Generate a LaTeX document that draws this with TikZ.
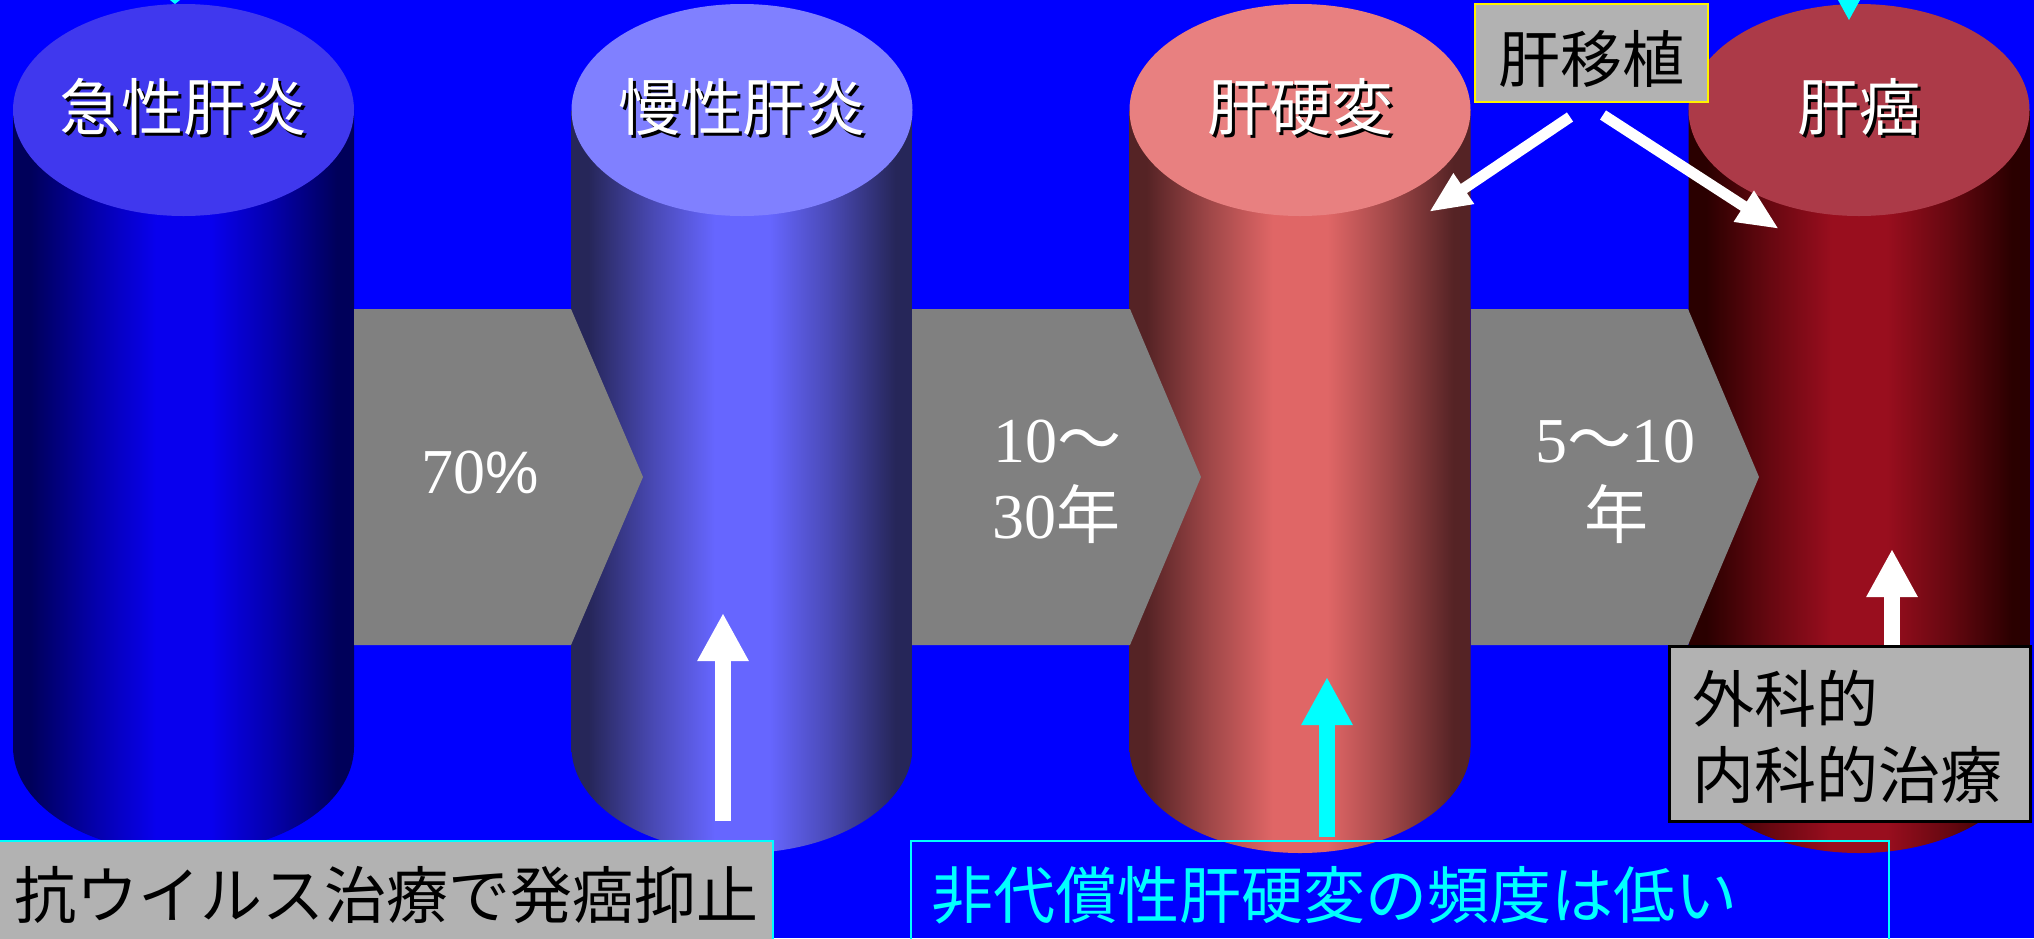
\documentclass[tikz,border=0pt]{standalone}
\usepackage{fontspec}
\setmainfont{Liberation Serif}
\newfontfamily\jp{Noto Sans CJK JP}
\newfontfamily\lsans{Liberation Sans}
\usetikzlibrary{arrows.meta}
\definecolor{bg}{HTML}{0000FF}
\definecolor{chevgray}{HTML}{808080}
\definecolor{boxgray}{HTML}{B2B2B2}
\definecolor{cyanline}{HTML}{00FFFF}
\definecolor{eA}{HTML}{00005A}\definecolor{mA}{HTML}{0800EE}\definecolor{tA}{HTML}{4038EE}
\definecolor{eB}{HTML}{262659}\definecolor{mB}{HTML}{6666FF}\definecolor{tB}{HTML}{8080FF}
\definecolor{eC}{HTML}{552325}\definecolor{mC}{HTML}{E06666}\definecolor{tC}{HTML}{E88080}
\definecolor{eD}{HTML}{2A0000}\definecolor{mD}{HTML}{990E1E}\definecolor{tD}{HTML}{AC3A48}
\newcommand\mkshade[3]{%
  \colorlet{#1q}{#2!45!#3}%
  \pgfdeclarehorizontalshading{#1}{100bp}{color(0bp)=(#2); color(27.5bp)=(#2); color(37bp)=(#1q); color(46bp)=(#3); color(54bp)=(#3); color(63bp)=(#1q); color(72.5bp)=(#2); color(100bp)=(#2)}%
}
\mkshade{shA}{eA}{mA}
\mkshade{shB}{eB}{mB}
\mkshade{shC}{eC}{mC}
\mkshade{shD}{eD}{mD}
\newcommand\mycyl[3]{%
  \shade[shading=#2]
    (#1-170.5,-110) -- (#1-170.5,-747)
    arc[start angle=180,end angle=360,x radius=170.5,y radius=106]
    -- (#1+170.5,-110) -- cycle;
  \fill[#3] (#1,-110) ellipse[x radius=170.5,y radius=106];
}
\tikzset{
  cjk/.style={font=\jp\fontsize{62}{70}\selectfont,inner sep=0pt,anchor=base},
  num/.style={font=\fontsize{64}{72}\selectfont,text=white,inner sep=0pt,anchor=base},
  chev/.style={fill=chevgray},
  whitearrow/.style={draw=white,line width=11pt,-{Triangle[length=42pt,width=34pt]}},
  uparrow/.style={draw=#1,line width=16pt,-{Triangle[length=48pt,width=48pt]}},
}
\begin{document}
\begin{tikzpicture}[x=1pt,y=1pt]
\useasboundingbox (0,0) rectangle (2034,-938);
\fill[bg] (0,0) rectangle (2034,-938);
% cylinders
\mycyl{183.5}{shA}{tA}
\mycyl{742}{shB}{tB}
\mycyl{1300}{shC}{tC}
\mycyl{1859}{shD}{tD}
% chevrons
\fill[chev] (354,-309) -- (571,-309) -- (643,-477) -- (571,-645) -- (354,-645) -- cycle;
\fill[chev] (912,-309) -- (1130,-309) -- (1201,-477) -- (1130,-645) -- (912,-645) -- cycle;
\fill[chev] (1471,-309) -- (1688,-309) -- (1759,-477) -- (1688,-645) -- (1471,-645) -- cycle;
\node[num] (p1) at (480,-493) {70{\lsans\fontsize{60}{70}\selectfont \%}};
\node[num] (p2a) at (1057,-462) {10{\jp ～}};
\node[num] (p2b) at (1056,-538) {30{\jp 年}};
\node[num] (p3a) at (1615,-462) {5{\jp ～}10};
\node[num] (p3b) at (1616,-538) {\jp 年};
% cylinder labels with shadow
\foreach \x/\t/\n in {183.5/急性肝炎/a,742/慢性肝炎/b,1300/肝硬変/c,1859/肝癌/d}{
  \node[cjk,text=black] at (\x+3,-133) {\t};
  \node[cjk,text=white] (lab\n) at (\x,-130) {\t};
}
% liver transplant box
\fill[boxgray,draw=yellow,line width=1.5pt] (1475,-4) rectangle (1708,-102);
\node[cjk,text=black] (tx) at (1591,-82) {肝移植};
\coordinate (txl) at (1570,-117);
\coordinate (txr) at (1603,-115);
\coordinate (tipc) at (1429,-212);
\coordinate (tipd) at (1779,-229);
\draw[whitearrow] (txl) -- (tipc);
\draw[whitearrow] (txr) -- (tipd);
% cyan tips from above
\fill[cyanline] (1838,0) -- (1860,0) -- (1849,-20) -- cycle;
\fill[cyanline] (170,0) -- (180,0) -- (175,-4) -- cycle;
% vertical arrows
\coordinate (b2) at (723,-821);
\coordinate (t2) at (723,-613);
\draw[uparrow=white] (b2) -- (t2);
\coordinate (b3) at (1327,-837);
\coordinate (t3) at (1327,-677);
\draw[uparrow=cyanline] (b3) -- (t3);
\coordinate (b4) at (1892,-660);
\coordinate (t4) at (1892,-549);
\draw[uparrow=white] (b4) -- (t4);
% treatment box
\node[draw=black,line width=3pt,fill=boxgray,minimum width=361pt,minimum height=175pt,anchor=north west,inner sep=0pt] (trt) at (1668,-645) {};
\node[cjk,text=black,anchor=base west] (trt1) at (1692,-722) {外科的};
\node[cjk,text=black,anchor=base west] (trt2) at (1692,-798) {内科的治療};
% bottom boxes
\fill[boxgray,draw=cyanline,line width=2pt] (-3,-841) rectangle (773,-945);
\node[cjk,text=black,anchor=base west] (anti) at (14,-918) {抗ウイルス治療で発癌抑止};
\draw[cyanline,line width=2pt] (911,-841) rectangle (1889,-945);
\node[cjk,text=cyanline,anchor=base west] (low) at (931,-918) {非代償性肝硬変の頻度は低い};
\end{tikzpicture}
\end{document}
